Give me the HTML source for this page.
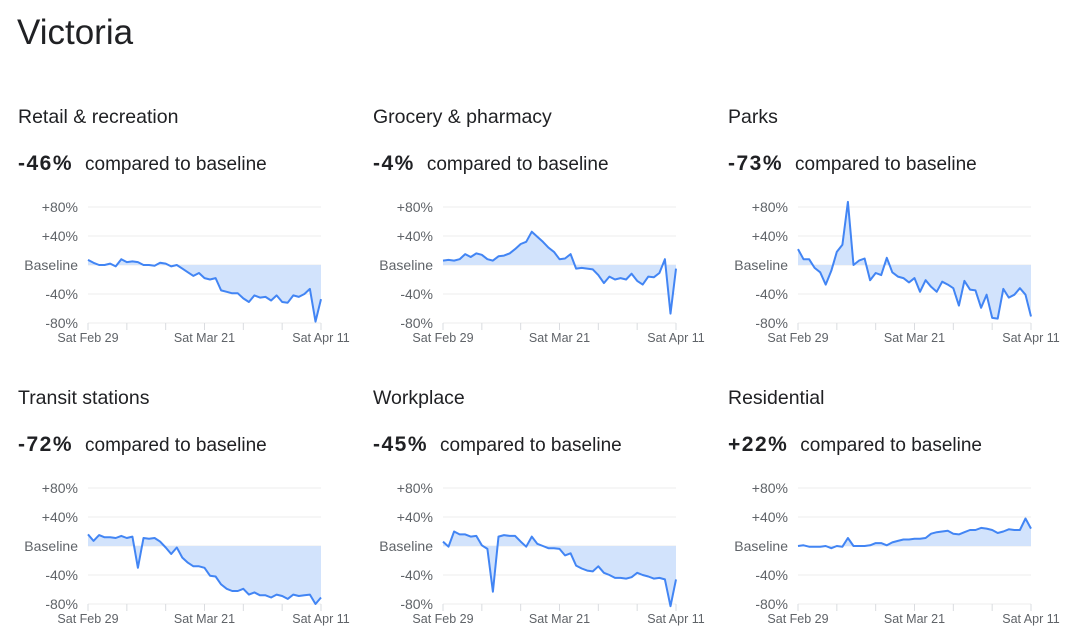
<!DOCTYPE html>
<html><head><meta charset="utf-8"><style>
html,body{margin:0;padding:0;background:#fff;}
svg{display:block;font-family:"Liberation Sans",Arial,sans-serif;}
</style></head><body>
<svg id="s" width="1080" height="639" viewBox="0 0 1080 639">
<text x="17" y="44" font-size="35" fill="#202124">Victoria</text>
</svg>
<script>
const titles = ["Retail & recreation","Grocery & pharmacy","Parks","Transit stations","Workplace","Residential"];
const headline = ["-46%","-4%","-73%","-72%","-45%","+22%"];
const tickLabels = ["+80%","+40%","Baseline","-40%","-80%"];
const tickValues = [80,40,0,-40,-80];
const dateLabels = ["Sat Feb 29","Sat Mar 21","Sat Apr 11"];
const dateLabelDays = [0,21,42];
const retail = [7,3,0,0,2,-2,8,4,5,4,0,0,-1,3,2,-2,0,-5,-10,-15,-11,-18,-20,-18,-35,-37,-39,-39,-46,-51,-42,-45,-44,-49,-42,-51,-52,-42,-44,-40,-33,-78,-47];
const grocery = [6,7,6,8,15,11,16,14,8,6,12,13,16,22,29,32,46,39,32,24,18,8,9,15,-5,-4,-5,-6,-14,-25,-16,-20,-18,-20,-12,-22,-27,-16,-17,-11,8,-67,-5];
const parks = [22,8,8,-4,-10,-27,-8,18,28,87,0,6,9,-21,-11,-14,10,-10,-16,-18,-24,-18,-37,-21,-30,-37,-23,-27,-32,-56,-22,-34,-35,-59,-41,-73,-74,-33,-45,-41,-32,-41,-71];
const transit = [16,7,15,12,12,11,14,11,13,-30,11,10,11,6,-2,-11,-2,-16,-23,-28,-28,-30,-41,-42,-53,-59,-62,-62,-59,-67,-64,-68,-68,-71,-67,-69,-73,-67,-69,-68,-67,-80,-71];
const workplace = [6,-1,20,16,16,13,14,1,-4,-63,13,15,14,14,6,-1,13,3,0,-3,-3,-4,-13,-10,-27,-31,-34,-35,-28,-37,-40,-44,-44,-45,-43,-37,-40,-42,-45,-44,-46,-83,-46];
const residential = [0,1,-1,-1,-1,0,-3,0,-1,11,0,0,0,1,4,4,1,5,7,9,9,10,10,11,17,19,20,21,17,16,19,22,22,25,24,22,18,20,23,22,22,38,24];
const seriesList = [retail,grocery,parks,transit,workplace,residential];
const NS="http://www.w3.org/2000/svg";
const svg=document.getElementById('s');
function mk(tag,attrs,parent){const e=document.createElementNS(NS,tag);for(const k in attrs)e.setAttribute(k,attrs[k]);(parent||svg).appendChild(e);return e;}
const slug=t=>t.toLowerCase().replace(/&/g,'and').replace(/[^a-z0-9]+/g,'-').replace(/-+$/,'');
for(let p=0;p<6;p++){
  const col=p%3,row=Math.floor(p/3);
  const left=18+col*355, top=row*281;
  const g=mk('g',{});
  
  
  const t=mk('text',{x:left,y:top+123,'font-size':19.5,fill:'#202124'},g);t.textContent=titles[p];
  
  
  const hv=mk('text',{x:left,y:top+170,'font-size':21,fill:'#202124'},g);
  
  
  const b=mk('tspan',{'font-weight':'bold','letter-spacing':1.5},hv);b.textContent=headline[p];
  const r=mk('tspan',{dx:12,'font-size':19},hv);r.textContent='compared to baseline';
  const x0=left+70,x1=left+303;
  const xs=d=>x0+(x1-x0)*d/42;
  const ys=v=>top+265-v*29/40;
  tickValues.forEach((v,i)=>{
    const gl=mk('line',{x1:x0,x2:x1,y1:ys(v),y2:ys(v),stroke:'#ececec','stroke-width':1},g);
    
    
    const tl=mk('text',{x:left+60,y:ys(v)+5,'font-size':14,fill:'#5f6368','text-anchor':'end'},g);tl.textContent=tickLabels[i];
    
    
  });
  for(let d=0;d<=42;d+=7){
    const tk=mk('line',{x1:xs(d),x2:xs(d),y1:ys(-80),y2:ys(-80)+7,stroke:'#dadce0','stroke-width':1},g);
    
    
  }
  dateLabels.forEach((l,i)=>{
    const dl=mk('text',{x:xs(dateLabelDays[i]),y:top+342,'font-size':12.5,fill:'#5f6368','text-anchor':'middle'},g);dl.textContent=l;
    
    
  });
  const s=seriesList[p];
  let pts=s.map((v,i)=>xs(i).toFixed(1)+','+ys(v).toFixed(1)).join(' ');
  const area=mk('polygon',{points:xs(0)+','+ys(0)+' '+pts+' '+xs(s.length-1)+','+ys(0),fill:'#d2e3fc'},g);
  
  
  const ln=mk('polyline',{points:pts,fill:'none',stroke:'#4285f4','stroke-width':2,'stroke-linejoin':'round'},g);
  
  
}
</script>
</body></html>
